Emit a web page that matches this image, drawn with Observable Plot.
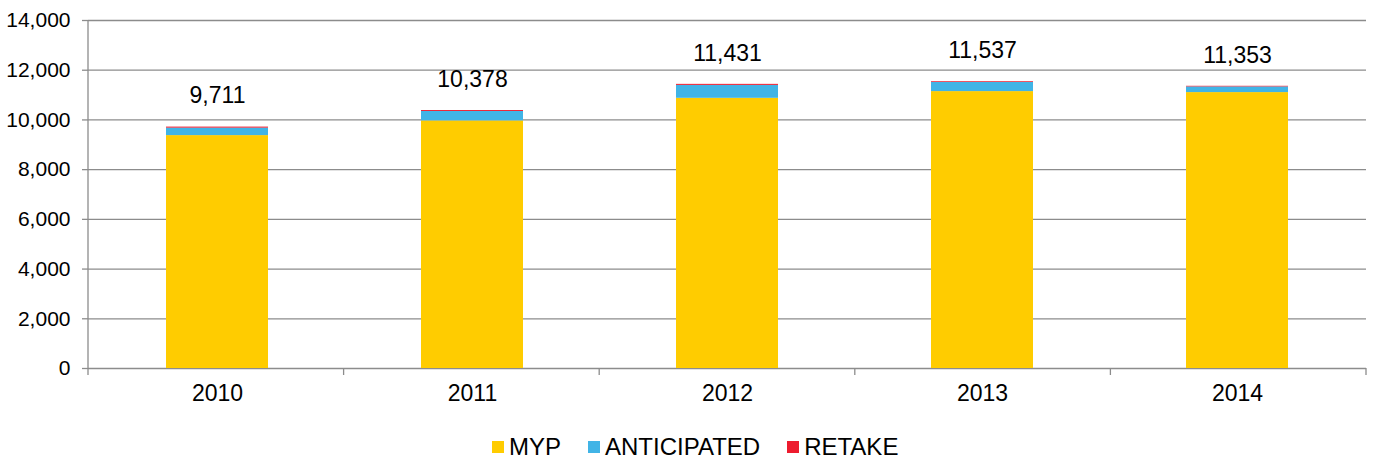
<!DOCTYPE html>
<html>
<head>
<meta charset="utf-8">
<script src="https://cdn.jsdelivr.net/npm/d3@7"></script>
<script src="https://cdn.jsdelivr.net/npm/@observablehq/plot@0.6"></script>
<style>
  html, body { margin: 0; padding: 0; background: #fff; }
  body { font-family: "Liberation Sans", Arial, sans-serif; width: 1373px; }
  #legend { position: relative; height: 36px; font-size: 24px; color: #000; }
  #legend .inner { position: absolute; left: 492px; top: 4px; height: 36px; display: flex; align-items: center; gap: 27px; }
  #legend .item { display: flex; align-items: center; gap: 5px; }
  #legend .sw { width: 12px; height: 12px; display: inline-block; }
</style>
</head>
<body>
<div id="chart"></div>
<div id="legend"><div class="inner"></div></div>
<script>
const years = ["2010", "2011", "2012", "2013", "2014"];
const myp = [9370, 9960, 10870, 11140, 11100];
const anticipated = [300, 380, 520, 367, 228];
const retake = [41, 38, 41, 30, 25];
const totals = [9711, 10378, 11431, 11537, 11353];
const seriesNames = ["MYP", "ANTICIPATED", "RETAKE"];
const seriesColors = ["#FFCC00", "#41B4E6", "#ED1C2E"];
const yTicks = [0, 2000, 4000, 6000, 8000, 10000, 12000, 14000];

const rows = [];
years.forEach((y, i) => {
  rows.push({year: y, series: "MYP", value: myp[i]});
  rows.push({year: y, series: "ANTICIPATED", value: anticipated[i]});
  rows.push({year: y, series: "RETAKE", value: retake[i]});
});
const totalRows = years.map((y, i) => ({year: y, total: totals[i]}));

const width = 1373, height = 425;
const mL = 88, mR = 7, mT = 20, mB = 57;
const fmt = d3.format(",");

// left axis line and category boundary ticks
const axisDecor = (index, scales, values, dims) => {
  const g = d3.create("svg:g");
  const x0 = dims.marginLeft, x1 = dims.width - dims.marginRight;
  const yb = dims.height - dims.marginBottom, yt = dims.marginTop;
  const step = (x1 - x0) / years.length;
  g.append("line").attr("x1", x0).attr("x2", x0).attr("y1", yt).attr("y2", yb)
    .attr("stroke", "#8c8c8c").attr("stroke-width", 1.3);
  for (let i = 0; i <= years.length; i++) {
    const xx = x0 + i * step;
    g.append("line").attr("x1", xx).attr("x2", xx).attr("y1", yb).attr("y2", yb + 7)
      .attr("stroke", "#8c8c8c").attr("stroke-width", 1.3);
  }
  return g.node();
};

const chart = Plot.plot({
  width, height,
  marginLeft: mL, marginRight: mR, marginTop: mT, marginBottom: mB,
  style: {fontFamily: "Liberation Sans, Arial, sans-serif", background: "#fff"},
  x: {domain: years, paddingInner: 0.6, paddingOuter: 0.3, label: null},
  y: {domain: [0, 14000], label: null},
  color: {domain: seriesNames, range: seriesColors},
  marks: [
    Plot.ruleY(yTicks, {stroke: "#8c8c8c", strokeWidth: 1.3}),
    Plot.barY(rows, {x: "year", y: "value", fill: "series", order: seriesNames}),
    axisDecor,
    Plot.axisY({ticks: yTicks, tickFormat: fmt, tickSize: 6, tickPadding: 12, fontSize: 21, stroke: "#8c8c8c", strokeWidth: 1.3, label: null}),
    Plot.axisX({tickSize: 0, tickPadding: 16, fontSize: 23, label: null}),
    Plot.text(totalRows, {x: "year", y: "total", text: d => fmt(d.total), dy: -31, fontSize: 23, fill: "#000"})
  ]
});
chart.querySelectorAll("text").forEach(t => t.setAttribute("fill", "#000"));
document.getElementById("chart").appendChild(chart);

const legend = document.querySelector("#legend .inner");
seriesNames.forEach((n, i) => {
  const it = document.createElement("span");
  it.className = "item";
  it.innerHTML = `<span class="sw" style="background:${seriesColors[i]}"></span><span>${n}</span>`;
  legend.appendChild(it);
});
</script>
</body>
</html>
